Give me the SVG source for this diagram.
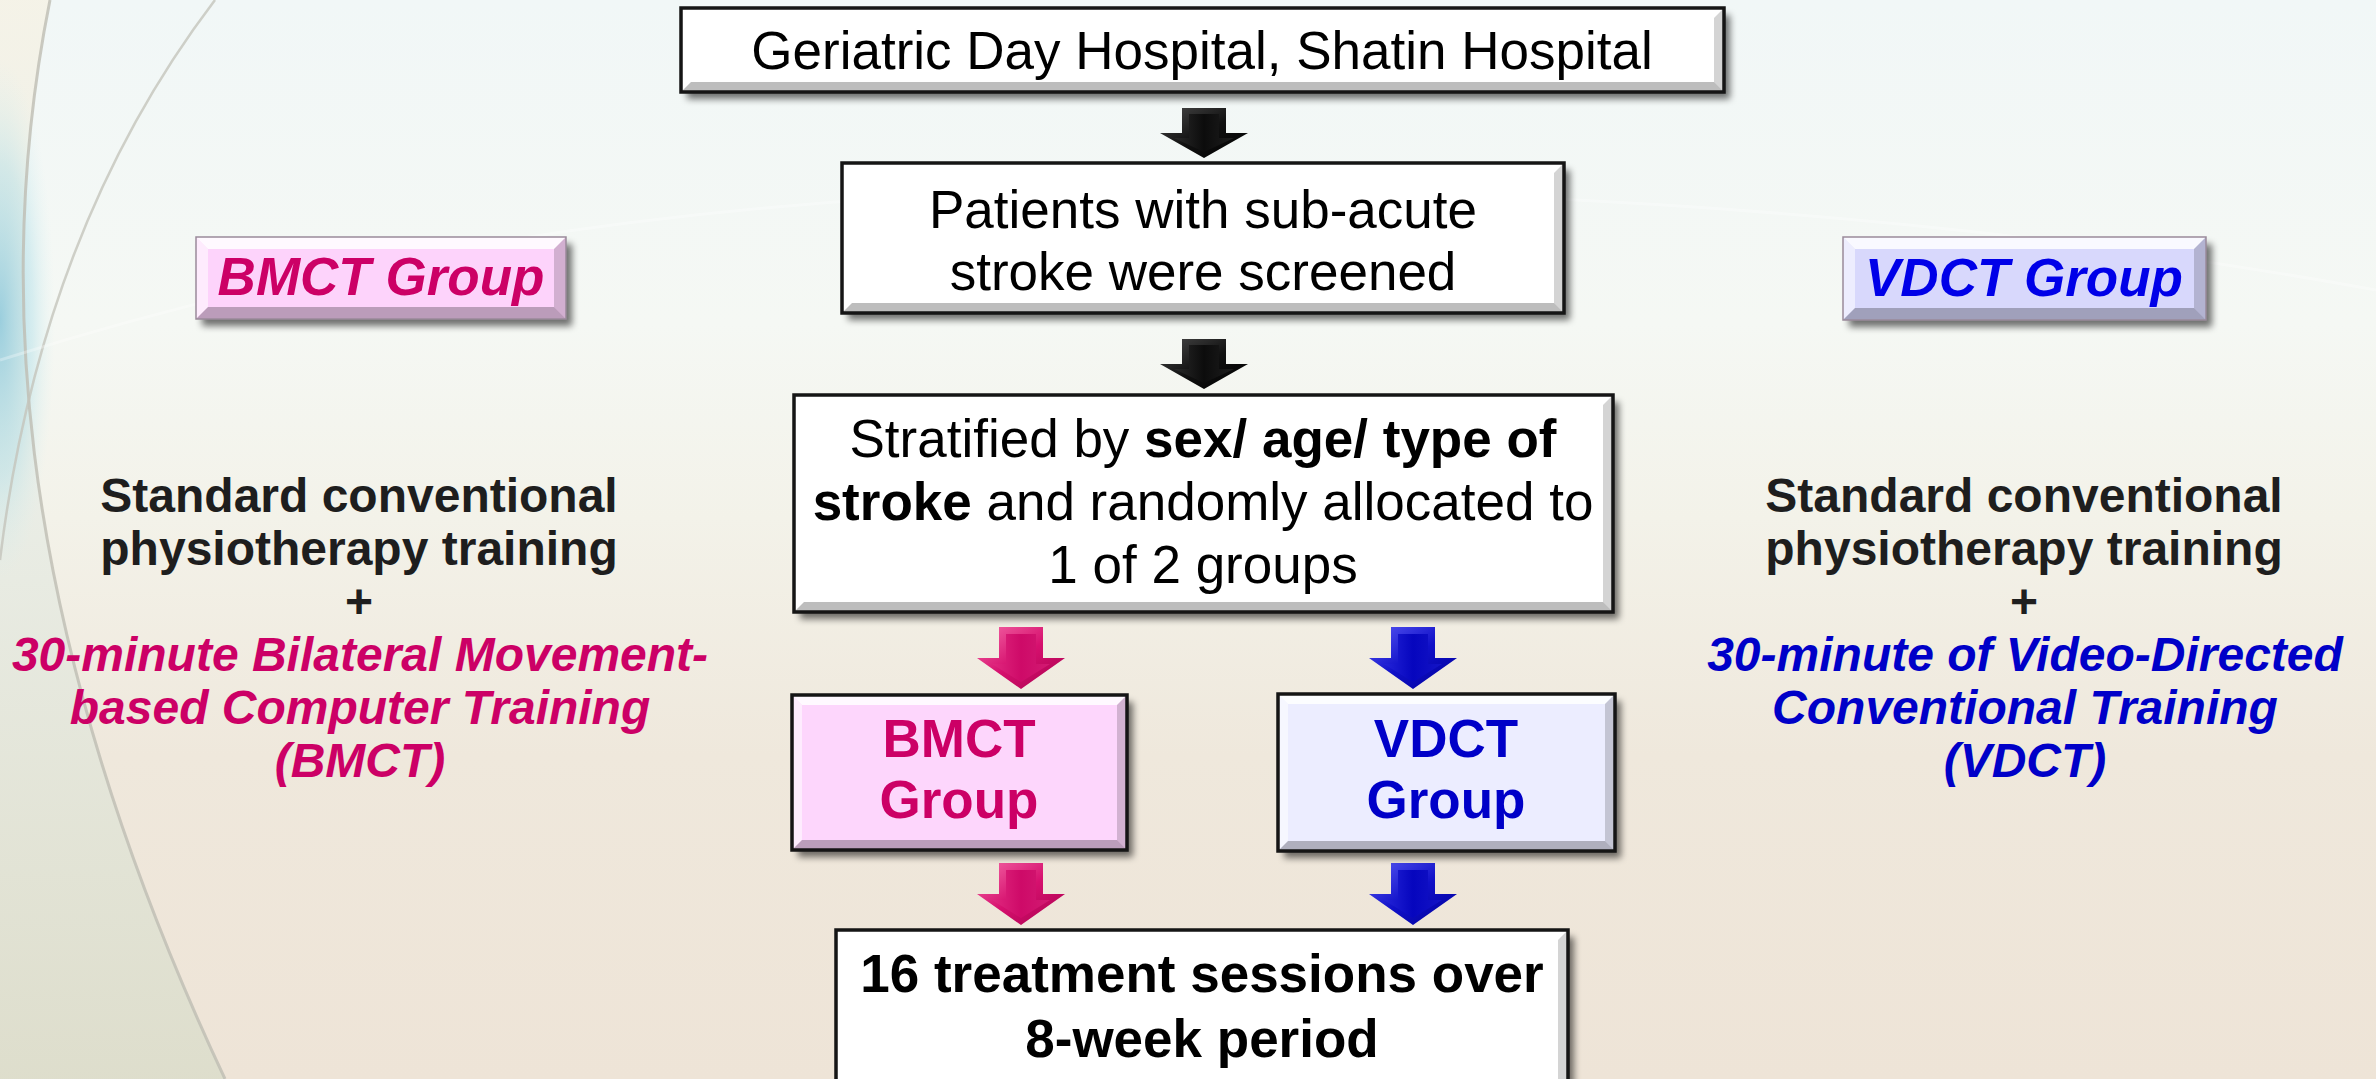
<svg xmlns="http://www.w3.org/2000/svg" width="2376" height="1079" viewBox="0 0 2376 1079">
<defs>
<linearGradient id="bg" x1="0" y1="0" x2="0" y2="1">
<stop offset="0" stop-color="#F1F7F7"/>
<stop offset="0.3" stop-color="#F5F8F4"/>
<stop offset="0.48" stop-color="#F3F2E9"/>
<stop offset="0.7" stop-color="#EFE8DC"/>
<stop offset="1" stop-color="#EEE4D7"/>
</linearGradient>
<linearGradient id="leftzone" x1="0" y1="0" x2="0" y2="1">
<stop offset="0" stop-color="#F5F2E6"/>
<stop offset="0.45" stop-color="#E9EDE6"/>
<stop offset="1" stop-color="#DCDDCB"/>
</linearGradient>
<radialGradient id="cyan" cx="0.5" cy="0.5" r="0.5">
<stop offset="0" stop-color="#7FC3DA" stop-opacity="0.75"/>
<stop offset="0.6" stop-color="#A8DCE8" stop-opacity="0.4"/>
<stop offset="1" stop-color="#D6F0F2" stop-opacity="0"/>
</radialGradient>
<filter id="shadow" x="-5%" y="-10%" width="115%" height="130%">
<feGaussianBlur in="SourceAlpha" stdDeviation="3.5"/>
<feOffset dx="6" dy="7" result="o"/>
<feComponentTransfer><feFuncA type="linear" slope="0.55"/></feComponentTransfer>
<feMerge><feMergeNode/><feMergeNode in="SourceGraphic"/></feMerge>
</filter>
<linearGradient id="gBlackO" x1="0" y1="0" x2="1" y2="1">
<stop offset="0" stop-color="#4a4a4a"/>
<stop offset="0.5" stop-color="#111"/>
<stop offset="1" stop-color="#000"/>
</linearGradient>
<linearGradient id="gBlackI" x1="0" y1="0" x2="1" y2="0">
<stop offset="0" stop-color="#2a2a2a"/>
<stop offset="0.5" stop-color="#0c0c0c"/>
<stop offset="1" stop-color="#1e1e1e"/>
</linearGradient>
<linearGradient id="gPinkO" x1="0" y1="0" x2="1" y2="1">
<stop offset="0" stop-color="#F56AA8"/>
<stop offset="0.5" stop-color="#D6106E"/>
<stop offset="1" stop-color="#A8004E"/>
</linearGradient>
<linearGradient id="gPinkI" x1="0" y1="0" x2="1" y2="0">
<stop offset="0" stop-color="#E0287F"/>
<stop offset="0.5" stop-color="#CE0A68"/>
<stop offset="1" stop-color="#D21A72"/>
</linearGradient>
<linearGradient id="gBlueO" x1="0" y1="0" x2="1" y2="1">
<stop offset="0" stop-color="#5A5AF5"/>
<stop offset="0.5" stop-color="#1010C8"/>
<stop offset="1" stop-color="#00009A"/>
</linearGradient>
<linearGradient id="gBlueI" x1="0" y1="0" x2="1" y2="0">
<stop offset="0" stop-color="#2424D8"/>
<stop offset="0.5" stop-color="#0606BE"/>
<stop offset="1" stop-color="#1414C6"/>
</linearGradient>
<g id="arrowBlack">
<polygon points="-22,0 22,0 22,25 44,25 0,50 -44,25 -22,25" fill="url(#gBlackO)"/>
<polygon points="-15,6 15,6 15,30 30,30 0,44 -30,30 -15,30" fill="url(#gBlackI)"/>
</g>
<g id="arrowPink">
<polygon points="-22,0 22,0 22,31 44,31 0,62 -44,31 -22,31" fill="url(#gPinkO)"/>
<polygon points="-15,7 15,7 15,37 29,37 0,55 -29,37 -15,37" fill="url(#gPinkI)"/>
</g>
<g id="arrowBlue">
<polygon points="-22,0 22,0 22,31 44,31 0,62 -44,31 -22,31" fill="url(#gBlueO)"/>
<polygon points="-15,7 15,7 15,37 29,37 0,55 -29,37 -15,37" fill="url(#gBlueI)"/>
</g>
</defs>
<style>
.t{font-family:"Liberation Sans",Arial,Helvetica,sans-serif;font-size:53px;text-anchor:middle;fill:#000}
.b{font-weight:bold}
.it{font-style:italic}
.side{font-family:"Liberation Sans",Arial,Helvetica,sans-serif;font-size:48px;font-weight:bold;text-anchor:middle;fill:#1e1e1e}
.pk{fill:#CC0066}
.bl{fill:#0000C8}
.blv{fill:#0000E8}
.frame{fill:none;stroke:#151515;stroke-width:3.5}
.frameL{fill:none;stroke:#9a8a9a;stroke-width:1.5}
.bvT{fill:#ffffff;opacity:0.85}
.bvL{fill:#ffffff;opacity:0.55}
.bvR{fill:#000;opacity:0.17}
.bvB{fill:#000;opacity:0.26}
.arcA{fill:none;stroke:#BEBDB3;stroke-width:3;opacity:0.8}
.arcB{fill:none;stroke:#C4C4BC;stroke-width:2.5;opacity:0.8}
</style>

<g id="background">
<rect x="0" y="0" width="2376" height="1079" fill="url(#bg)"/>
<path d="M0,0 L50,0 C0,250 0,600 225,1079 L0,1079 Z" fill="url(#leftzone)" opacity="0.9"/>
<ellipse cx="0" cy="320" rx="55" ry="260" fill="url(#cyan)"/>
<path class="arcA" d="M50,0 C0,250 0,600 225,1079"/>
<path class="arcB" d="M215,0 Q40,230 0,560"/>
<path d="M0,360 Q500,200 1100,190 Q1800,185 2376,290" fill="none" stroke="#ffffff" stroke-width="3" opacity="0.3"/>
</g>

<g id="connectors">
<use href="#arrowBlack" transform="translate(1204,108)"/>
<use href="#arrowBlack" transform="translate(1204,339)"/>
<use href="#arrowPink" transform="translate(1021,627)"/>
<use href="#arrowBlue" transform="translate(1413,627)"/>
<use href="#arrowPink" transform="translate(1021,863)"/>
<use href="#arrowBlue" transform="translate(1413,863)"/>
</g>

<g id="node-hospital">
<rect x="681" y="8" width="1043" height="84" fill="#fff" filter="url(#shadow)"/>
<polygon class="bvT" points="681,8 1724,8 1714,18 691,18"/>
<polygon class="bvR" points="1724,8 1724,92 1714,82 1714,18"/>
<polygon class="bvB" points="681,92 1724,92 1714,82 691,82"/>
<rect class="frame" x="681" y="8" width="1043" height="84"/>
<text class="t" x="1202" y="69">Geriatric Day Hospital, Shatin Hospital</text>
</g>

<g id="node-screened">
<rect x="842" y="163" width="722" height="150" fill="#fff" filter="url(#shadow)"/>
<polygon class="bvR" points="1564,163 1564,313 1554,303 1554,173"/>
<polygon class="bvB" points="842,313 1564,313 1554,303 852,303"/>
<rect class="frame" x="842" y="163" width="722" height="150"/>
<text class="t" x="1203" y="228">Patients with sub-acute</text>
<text class="t" x="1203" y="290">stroke were screened</text>
</g>

<g id="node-stratified">
<rect x="794" y="395" width="819" height="217" fill="#fff" filter="url(#shadow)"/>
<polygon class="bvR" points="1613,395 1613,612 1603,602 1603,405"/>
<polygon class="bvB" points="794,612 1613,612 1603,602 804,602"/>
<rect class="frame" x="794" y="395" width="819" height="217"/>
<text class="t" x="1203" y="457">Stratified by <tspan class="b">sex/ age/ type of</tspan></text>
<text class="t" x="1203" y="520"><tspan class="b">stroke</tspan> and randomly allocated to</text>
<text class="t" x="1203" y="583">1 of 2 groups</text>
</g>

<g id="node-bmct">
<rect x="792" y="695" width="335" height="155" fill="#FDD6FC" filter="url(#shadow)"/>
<polygon class="bvT" points="792,695 1127,695 1117,705 802,705"/>
<polygon class="bvL" points="792,695 802,705 802,840 792,850"/>
<polygon class="bvR" points="1127,695 1127,850 1117,840 1117,705"/>
<polygon class="bvB" points="792,850 1127,850 1117,840 802,840"/>
<rect class="frame" x="792" y="695" width="335" height="155"/>
<text class="t b pk" x="959" y="757">BMCT</text>
<text class="t b pk" x="959" y="818">Group</text>
</g>

<g id="node-vdct">
<rect x="1278" y="694" width="337" height="157" fill="#ECEDFF" filter="url(#shadow)"/>
<polygon class="bvT" points="1278,694 1615,694 1605,704 1288,704"/>
<polygon class="bvL" points="1278,694 1288,704 1288,841 1278,851"/>
<polygon class="bvR" points="1615,694 1615,851 1605,841 1605,704"/>
<polygon class="bvB" points="1278,851 1615,851 1605,841 1288,841"/>
<rect class="frame" x="1278" y="694" width="337" height="157"/>
<text class="t b bl" x="1446" y="757">VDCT</text>
<text class="t b bl" x="1446" y="818">Group</text>
</g>

<g id="node-sessions">
<rect x="836" y="930" width="732" height="170" fill="#fff" filter="url(#shadow)"/>
<polygon class="bvR" points="1568,930 1568,1090 1558,1090 1558,940"/>
<rect class="frame" x="836" y="930" width="732" height="170"/>
<text class="t b" x="1202" y="992">16 treatment sessions over</text>
<text class="t b" x="1202" y="1057">8-week period</text>
</g>

<g id="node-bmct-label">
<rect x="196" y="237" width="370" height="82" fill="#FDD3FB" filter="url(#shadow)"/>
<polygon class="bvT" points="196,237 566,237 554,249 208,249"/>
<polygon class="bvL" points="196,237 208,249 208,307 196,319"/>
<polygon class="bvR" points="566,237 566,319 554,307 554,249"/>
<polygon class="bvB" points="196,319 566,319 554,307 208,307"/>
<rect class="frameL" x="196" y="237" width="370" height="82"/>
<text class="t b it pk" x="381" y="295">BMCT Group</text>
</g>

<g id="node-vdct-label">
<rect x="1843" y="237" width="363" height="83" fill="#D8D8FC" filter="url(#shadow)"/>
<polygon class="bvT" points="1843,237 2206,237 2194,249 1855,249"/>
<polygon class="bvL" points="1843,237 1855,249 1855,308 1843,320"/>
<polygon class="bvR" points="2206,237 2206,320 2194,308 2194,249"/>
<polygon class="bvB" points="1843,320 2206,320 2194,308 1855,308"/>
<rect class="frameL" x="1843" y="237" width="363" height="83"/>
<text class="t b it blv" x="2024" y="296">VDCT Group</text>
</g>

<g id="node-bmct-desc">
<text class="side" x="359" y="512">Standard conventional</text>
<text class="side" x="359" y="565">physiotherapy training</text>
<text class="side" x="359" y="618">+</text>
<text class="side it pk" x="360" y="671">30-minute Bilateral Movement-</text>
<text class="side it pk" x="360" y="724">based Computer Training</text>
<text class="side it pk" x="360" y="777">(BMCT)</text>
</g>

<g id="node-vdct-desc">
<text class="side" x="2024" y="512">Standard conventional</text>
<text class="side" x="2024" y="565">physiotherapy training</text>
<text class="side" x="2024" y="618">+</text>
<text class="side it bl" x="2025" y="671">30-minute of Video-Directed</text>
<text class="side it bl" x="2025" y="724">Conventional Training</text>
<text class="side it bl" x="2025" y="777">(VDCT)</text>
</g>
</svg>
